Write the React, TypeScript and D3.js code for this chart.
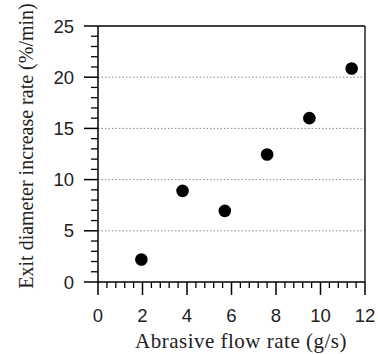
import React from "react";
import * as d3 from "d3";

const flowRate = [1.95, 3.8, 5.7, 7.6, 9.5, 11.4];
const increaseRate = [2.2, 8.9, 6.95, 12.45, 16.0, 20.85];
const xTicks = [0, 2, 4, 6, 8, 10, 12];
const yTicks = [0, 5, 10, 15, 20, 25];
const gridValues = [5, 10, 15, 20];
const xLabel = "Abrasive flow rate (g/s)";
const yLabel = "Exit diameter increase rate (%/min)";

const W = 378, H = 354;
const L = 98, R = 365, T = 26, B = 282;

export default function App() {
  const x = d3.scaleLinear().domain([0, 12]).range([L, R]);
  const y = d3.scaleLinear().domain([0, 25]).range([B, T]);
  const xMinor = d3.range(0, 12.001, 0.4).filter(v => Math.abs(v / 2 - Math.round(v / 2)) > 1e-6);
  const yMinor = d3.range(0, 25.001, 1).filter(v => v % 5 !== 0);
  const sans = "'Liberation Sans', Arial, sans-serif";
  const serif = "'Liberation Serif', 'Times New Roman', serif";
  return (
    <svg width={W} height={H} style={{ position: "absolute", left: 0, top: 0, background: "#fff" }}>
      {gridValues.map(v => (
        <line key={"g" + v} x1={L} x2={R} y1={y(v)} y2={y(v)} stroke="#888" strokeWidth={1} strokeDasharray="1.5,2" />
      ))}
      <line x1={L} x2={R} y1={T} y2={T} stroke="#000" strokeWidth={1.3} />
      <line x1={R} x2={R} y1={T} y2={B} stroke="#000" strokeWidth={1.3} />
      <line x1={L} x2={L} y1={T} y2={B} stroke="#000" strokeWidth={1.5} />
      <line x1={L} x2={R} y1={B} y2={B} stroke="#000" strokeWidth={1.5} />
      {yTicks.map(v => (
        <g key={"yt" + v}>
          <line x1={L - 14} x2={L} y1={y(v)} y2={y(v)} stroke="#000" strokeWidth={1.5} />
          <text x={L - 24} y={y(v)} dy="0.36em" textAnchor="end" fontFamily={sans} fontSize={18.5} fill="#222">{v}</text>
        </g>
      ))}
      {yMinor.map(v => (
        <line key={"ym" + v} x1={L - 7} x2={L} y1={y(v)} y2={y(v)} stroke="#000" strokeWidth={1.3} />
      ))}
      {xTicks.map(v => (
        <g key={"xt" + v}>
          <line x1={x(v)} x2={x(v)} y1={B} y2={B + 13} stroke="#000" strokeWidth={1.5} />
          <text x={x(v)} y={B + 40} textAnchor="middle" fontFamily={sans} fontSize={18.5} fill="#222">{v}</text>
        </g>
      ))}
      {xMinor.map(v => (
        <line key={"xm" + v} x1={x(v)} x2={x(v)} y1={B} y2={B + 6} stroke="#000" strokeWidth={1.3} />
      ))}
      {flowRate.map((v, i) => (
        <circle key={"p" + i} cx={x(v)} cy={y(increaseRate[i])} r={6.3} fill="#000" />
      ))}
      <text x={241} y={348} textAnchor="middle" fontFamily={serif} fontSize={21} letterSpacing={0.5} fill="#222">{xLabel}</text>
      <text transform={`translate(33,146) rotate(-90)`} textAnchor="middle" fontFamily={serif} fontSize={20} fill="#222">{yLabel}</text>
    </svg>
  );
}
